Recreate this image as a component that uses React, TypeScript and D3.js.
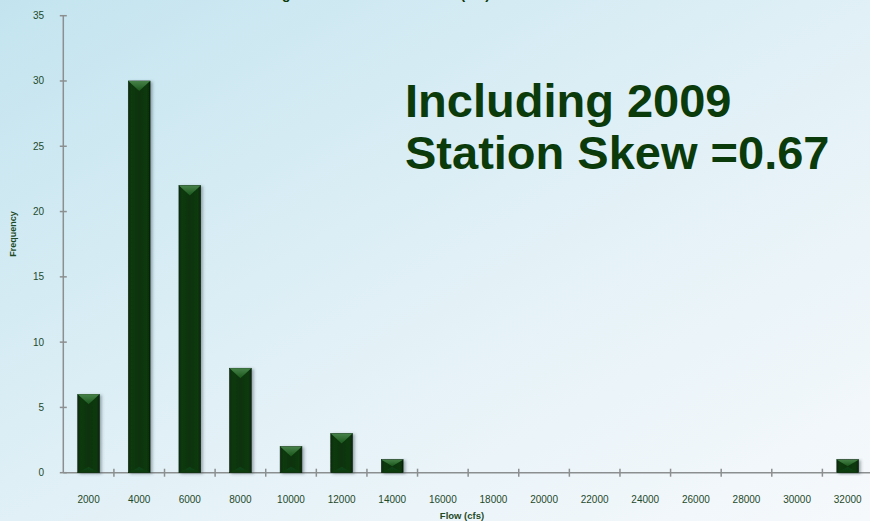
import React from "react";
import * as d3 from "d3";

const categories = ["2000","4000","6000","8000","10000","12000","14000","16000","18000","20000","22000","24000","26000","28000","30000","32000"];
const frequencies = [6, 30, 22, 8, 2, 3, 1, 0, 0, 0, 0, 0, 0, 0, 0, 1];
const yTicks = [0, 5, 10, 15, 20, 25, 30, 35];
const titleText = "Histogram of Annual Peak Flow (cfs)";
const noteLines = ["Including 2009", "Station Skew =0.67"];

const W = 870, H = 521;
const M = { left: 63.3, top: 15.7, bottom: 472.7, right: 873 };

export default function App() {
  const x = d3.scaleBand<string>().domain(categories).range([M.left, M.right]).paddingInner(0).paddingOuter(0);
  const y = d3.scaleLinear().domain([0, 35]).range([M.bottom, M.top]);
  const bw = x.bandwidth() * 0.43;
  const green = "#1f4a26";
  return (
    <div style={{ position: "fixed", left: 0, top: 0, width: W, height: H }}>
      <svg width={W} height={H} style={{ display: "block" }} fontFamily="'Liberation Sans', Arial, sans-serif">
        <defs>
          <linearGradient id="bg" x1="0" y1="0" x2="1" y2="1">
            <stop offset="0" stopColor="#c3e4ef" />
            <stop offset="0.55" stopColor="#e3f1f7" />
            <stop offset="1" stopColor="#f6f9fc" />
          </linearGradient>
          <linearGradient id="barBody" x1="0" y1="0" x2="1" y2="0">
            <stop offset="0" stopColor="#0a2c0a" />
            <stop offset="0.15" stopColor="#0a3a0c" />
            <stop offset="0.5" stopColor="#073207" />
            <stop offset="0.85" stopColor="#0a3a0c" />
            <stop offset="1" stopColor="#062606" />
          </linearGradient>
          <linearGradient id="barTop" x1="0" y1="0" x2="0" y2="1">
            <stop offset="0" stopColor="#4d8a4f" />
            <stop offset="1" stopColor="#1d5a1f" />
          </linearGradient>
          <linearGradient id="barBot" x1="0" y1="1" x2="0" y2="0">
            <stop offset="0" stopColor="#0c3a0e" />
            <stop offset="1" stopColor="#15481a" />
          </linearGradient>
          <filter id="shadow" x="-30%" y="-10%" width="160%" height="130%">
            <feDropShadow dx="2" dy="1" stdDeviation="1.6" floodColor="#3a4a55" floodOpacity="0.45" />
          </filter>
        </defs>
        <rect x={0} y={0} width={W} height={H} fill="url(#bg)" />

        <text x={490} y={-1.5} textAnchor="end" fontSize={14} fontWeight="bold" fill="#0a3a0a">{titleText}</text>

        {/* axes */}
        <line x1={M.left} x2={M.left} y1={M.top} y2={M.bottom} stroke="#8c8f8f" strokeWidth={1.5} />
        <line x1={M.left} x2={W} y1={M.bottom} y2={M.bottom} stroke="#8c8f8f" strokeWidth={1.5} />
        {yTicks.map((t) => (
          <g key={t}>
            <line x1={M.left - 3.5} x2={M.left + 3.5} y1={y(t)} y2={y(t)} stroke="#8c8f8f" strokeWidth={1.5} />
            <text x={44} y={y(t)} dy="0.35em" textAnchor="end" fontSize={10} fill="#1e4a2a">{t}</text>
          </g>
        ))}
        {categories.map((c, i) => (
          <g key={c}>
            {i > 0 && <line x1={x(c)!} x2={x(c)!} y1={M.bottom - 4} y2={M.bottom + 4} stroke="#8c8f8f" strokeWidth={1.5} />}
            <text x={x(c)! + x.bandwidth() / 2} y={499} dy="0.35em" textAnchor="middle" fontSize={10} fill="#1e4a2a">{c}</text>
          </g>
        ))}

        {/* bars */}
        {categories.map((c, i) => {
          const v = frequencies[i];
          if (!v) return null;
          const cx = x(c)! + x.bandwidth() / 2;
          const x0 = cx - bw / 2, x1 = cx + bw / 2;
          const top = y(v), bot = y(0);
          const h = bot - top;
          const tri = Math.min(10, h / 2);
          return (
            <g key={c} filter="url(#shadow)">
              <rect x={x0} y={top} width={bw} height={h} fill="url(#barBody)" stroke="#052005" strokeWidth={0.6} />
              <path d={`M${x0},${top}L${x1},${top}L${cx},${top + tri}Z`} fill="url(#barTop)" opacity={0.9} />
              <path d={`M${x0},${bot}L${x1},${bot}L${cx},${bot - Math.min(6, h / 2)}Z`} fill="url(#barBot)" opacity={0.8} />
            </g>
          );
        })}

        {/* annotation */}
        <text x={405} y={117} fontSize={47} fontWeight="bold" fill="#0b3a0b">{noteLines[0]}</text>
        <text x={405} y={169} fontSize={47} fontWeight="bold" fill="#0b3a0b">{noteLines[1]}</text>

        {/* axis titles */}
        <text x={462} y={516} dy="0.35em" textAnchor="middle" fontSize={9.5} fontWeight="bold" fill={green}>Flow (cfs)</text>
        <text transform={`translate(13,234) rotate(-90)`} dy="0.35em" textAnchor="middle" fontSize={9} fontWeight="bold" fill={green}>Frequency</text>
      </svg>
    </div>
  );
}
